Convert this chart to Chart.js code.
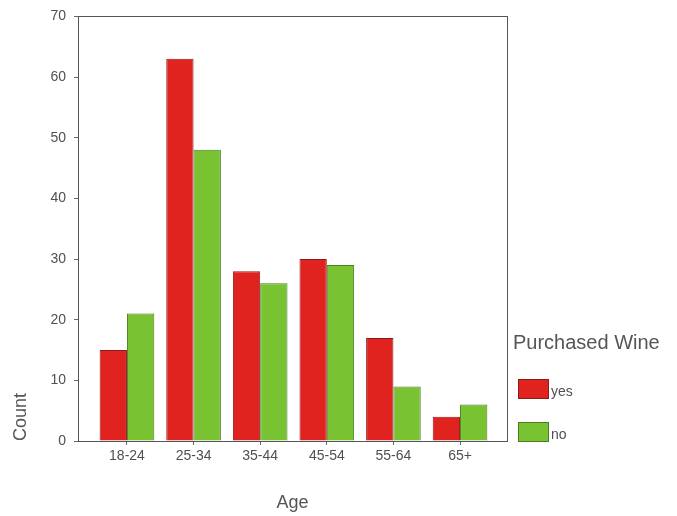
<!DOCTYPE html>
<html>
<head>
<meta charset="utf-8">
<script src="https://cdn.jsdelivr.net/npm/chart.js@4/dist/chart.umd.min.js"></script>
<style>
  html, body { margin: 0; padding: 0; background: #fff; }
  #wrap { width: 677px; height: 516px; }
</style>
</head>
<body>
<div id="wrap"><canvas id="grafico" width="677" height="516"></canvas></div>
<script>
// Dados do gráfico
const faixasEtarias = ["18-24", "25-34", "35-44", "45-54", "55-64", "65+"];
const compraSim = [15, 63, 28, 30, 17, 4];
const compraNao = [21, 48, 26, 29, 9, 6];
const ticksY = [0, 10, 20, 30, 40, 50, 60, 70];
const tituloLegenda = "Purchased Wine";

const fonte = "'Liberation Sans', Arial, sans-serif";
const corTexto = "#505050";

// pontos {x, y} a partir dos arrays
const pontos = (valores) => valores.map((v, i) => ({ x: i, y: v }));

// moldura em volta da área do gráfico
const moldura = {
    id: "moldura",
    afterDraw(chart) {
        const { ctx, chartArea: a } = chart;
        ctx.save();
        ctx.strokeStyle = "#555";
        ctx.lineWidth = 1;
        ctx.strokeRect(Math.round(a.left) + 0.5, Math.round(a.top) + 0.5,
            Math.round(a.right - a.left), Math.round(a.bottom - a.top));
        ctx.restore();
    }
};

// legenda à direita, no estilo do SPSS
const legenda = {
    id: "legenda",
    afterDraw(chart) {
        const { ctx, chartArea: a } = chart;
        const x0 = a.right + 6;
        ctx.save();
        ctx.fillStyle = "#555";
        ctx.font = "20px " + fonte;
        ctx.textBaseline = "middle";
        ctx.textAlign = "left";
        ctx.fillText(tituloLegenda, x0, a.bottom - 98);
        chart.data.datasets.forEach((ds, i) => {
            const y = a.bottom - 62 + i * 43;
            ctx.fillStyle = ds.backgroundColor;
            ctx.fillRect(x0 + 5, y, 31, 20);
            ctx.strokeStyle = ds.borderColor;
            ctx.lineWidth = 1;
            ctx.strokeRect(x0 + 5.5, y + 0.5, 30, 19);
            ctx.fillStyle = corTexto;
            ctx.font = "14px " + fonte;
            ctx.fillText(ds.label, x0 + 38, y + 13);
        });
        ctx.restore();
    }
};

const ctx = document.getElementById("grafico").getContext("2d");
new Chart(ctx, {
    type: "bar",
    data: {
        datasets: [{
            label: "yes",
            data: pontos(compraSim),
            backgroundColor: "#e12320",
            borderColor: "#8b1c1c",
            borderWidth: 1
        }, {
            label: "no",
            data: pontos(compraNao),
            backgroundColor: "#79c232",
            borderColor: "#4a7f22",
            borderWidth: 1
        }]
    },
    options: {
        responsive: false,
        animation: false,
        layout: { padding: { top: 4, left: 0, right: 170, bottom: 0 } },
        datasets: { bar: { categoryPercentage: 0.82, barPercentage: 1 } },
        plugins: {
            tooltip: { enabled: false },
            legend: { display: false }
        },
        scales: {
            x: {
                type: "linear",
                offset: false,
                min: -0.735,
                max: 5.705,
                afterBuildTicks: (scale) => {
                    scale.ticks = faixasEtarias.map((_, i) => ({ value: i }));
                },
                afterFit: (scale) => { scale.height = 75; },
                ticks: {
                    callback: (v) => faixasEtarias[v],
                    color: corTexto,
                    font: { family: fonte, size: 14 },
                    padding: 3,
                    maxRotation: 0,
                    autoSkip: false
                },
                grid: { offset: false, drawOnChartArea: false, drawTicks: true, tickLength: 4, color: "#666" },
                border: { display: true, color: "#555" },
                title: {
                    display: true,
                    text: "Age",
                    color: "#555",
                    font: { family: fonte, size: 18 },
                    padding: { top: 0, bottom: 2 }
                }
            },
            y: {
                min: 0,
                max: 70,
                afterBuildTicks: (scale) => {
                    scale.ticks = ticksY.map((v) => ({ value: v }));
                },
                afterFit: (scale) => { scale.width = 78; },
                ticks: {
                    color: corTexto,
                    font: { family: fonte, size: 14 },
                    padding: 8
                },
                grid: { drawOnChartArea: false, drawTicks: true, tickLength: 4, color: "#666" },
                border: { display: true, color: "#555" },
                title: {
                    display: true,
                    text: "Count",
                    align: "start",
                    color: "#555",
                    font: { family: fonte, size: 18 },
                    padding: { top: 10, bottom: 0 }
                }
            }
        }
    },
    plugins: [moldura, legenda]
});
</script>
</body>
</html>
